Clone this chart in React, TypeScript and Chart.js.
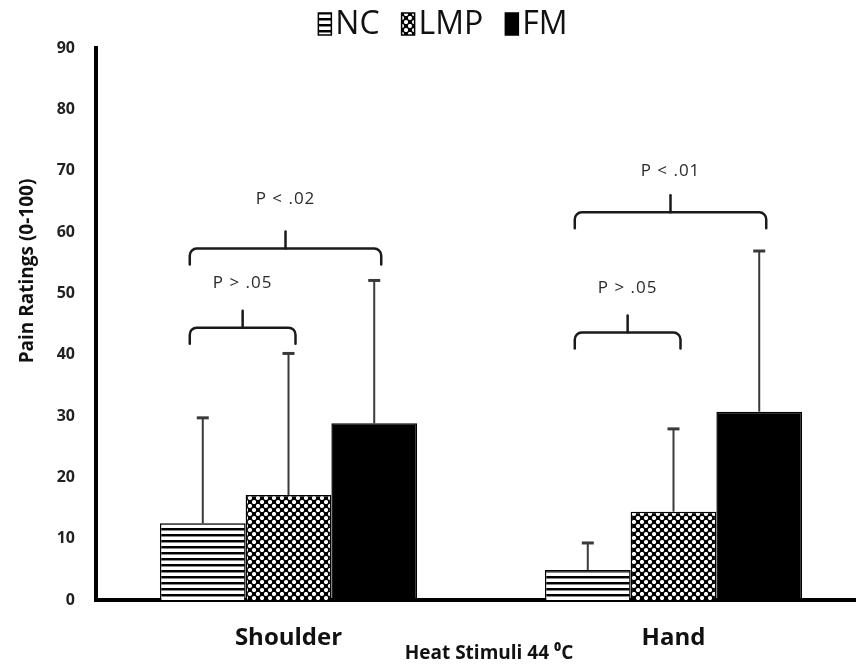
import React, { useEffect, useRef } from "react";
import { Chart, registerables } from "chart.js";

Chart.register(...registerables);

const categories = ["Shoulder", "Hand"];
const seriesNames = ["NC", "LMP", "FM"];
const ncMeans = [12.5, 4.9];
const lmpMeans = [17.1, 14.4];
const fmMeans = [28.8, 30.7];
const ncErrors = [17.2, 4.4];
const lmpErrors = [23.1, 13.5];
const fmErrors = [23.3, 26.2];
const yMin = 0;
const yMax = 90;
const yStep = 10;

const bracketCategory = [0, 0, 1, 1];
const bracketFromSeries = [0, 0, 0, 0];
const bracketToSeries = [1, 2, 1, 2];
const bracketValues = [44.4, 57.3, 43.6, 63.2];
const bracketLabels = ["P > .05", "P < .02", "P > .05", "P < .01"];
const bracketLabelValues = [51.6, 65.4, 50.9, 70.0];

const yAxisTitle = "Pain Ratings (0-100)";
const xAxisTitle = "Heat Stimuli 44 \u2070C";

const FONT = "'Open Sans', 'DejaVu Sans', sans-serif";

function makeStripes(): CanvasPattern | string {
  const c = document.createElement("canvas");
  c.width = 8;
  c.height = 6;
  const g = c.getContext("2d")!;
  g.fillStyle = "#ffffff";
  g.fillRect(0, 0, 8, 6);
  g.fillStyle = "#000000";
  g.fillRect(0, 0, 8, 2);
  g.fillStyle = "#888888";
  g.fillRect(0, 2, 8, 1);
  const p = g.createPattern(c, "repeat");
  return p || "#555";
}

function makeDots(): CanvasPattern | string {
  const c = document.createElement("canvas");
  c.width = 8;
  c.height = 8;
  const g = c.getContext("2d")!;
  g.fillStyle = "#000000";
  g.fillRect(0, 0, 8, 8);
  g.fillStyle = "#ffffff";
  g.beginPath();
  g.arc(2, 2, 2.1, 0, Math.PI * 2);
  g.fill();
  g.beginPath();
  g.arc(6, 6, 2.1, 0, Math.PI * 2);
  g.fill();
  const p = g.createPattern(c, "repeat");
  return p || "#444";
}

const overlayPlugin = {
  id: "overlay",
  afterDatasetsDraw(chart: any) {
    const ctx: CanvasRenderingContext2D = chart.ctx;
    const ys = chart.scales.y;
    const means = [ncMeans, lmpMeans, fmMeans];
    const errs = [ncErrors, lmpErrors, fmErrors];
    ctx.save();
    errs.forEach((arr, di) => {
      const meta = chart.getDatasetMeta(di);
      arr.forEach((e, i) => {
        const bar = meta.data[i];
        const x = bar.x;
        const y0 = bar.y;
        const y1 = ys.getPixelForValue(means[di][i] + e);
        ctx.strokeStyle = "#3a3a3a";
        ctx.lineWidth = 2;
        ctx.beginPath();
        ctx.moveTo(x, y0);
        ctx.lineTo(x, y1);
        ctx.stroke();
        ctx.lineWidth = 3;
        ctx.beginPath();
        ctx.moveTo(x - 6, y1);
        ctx.lineTo(x + 6, y1);
        ctx.stroke();
      });
    });
    bracketValues.forEach((v, k) => {
      const ci = bracketCategory[k];
      const fromBar = chart.getDatasetMeta(bracketFromSeries[k]).data[ci];
      const toBar = chart.getDatasetMeta(bracketToSeries[k]).data[ci];
      const x1 = fromBar.x - 13;
      const x2 = toBar.x + 7;
      const by = ys.getPixelForValue(v);
      const drop = 16;
      const r = 7;
      const notch = 17;
      ctx.strokeStyle = "#1a1a1a";
      ctx.lineWidth = 2.5;
      ctx.lineCap = "round";
      ctx.beginPath();
      ctx.moveTo(x1, by + drop);
      ctx.arcTo(x1, by, x1 + r, by, r);
      ctx.lineTo(x2 - r, by);
      ctx.arcTo(x2, by, x2, by + r, r);
      ctx.lineTo(x2, by + drop);
      ctx.stroke();
      const mx = (x1 + x2) / 2;
      ctx.beginPath();
      ctx.moveTo(mx, by);
      ctx.lineTo(mx, by - notch);
      ctx.stroke();
      ctx.fillStyle = "#2a2a2a";
      ctx.font = `17px ${FONT}`;
      (ctx as any).letterSpacing = "1px";
      ctx.textAlign = "center";
      ctx.textBaseline = "middle";
      ctx.fillText(bracketLabels[k], mx, ys.getPixelForValue(bracketLabelValues[k]));
      (ctx as any).letterSpacing = "0px";
    });
    ctx.restore();
  },
  afterDraw(chart: any) {
    const ctx: CanvasRenderingContext2D = chart.ctx;
    const ca = chart.chartArea;
    ctx.save();
    ctx.fillStyle = "#111";
    ctx.font = `bold 19px ${FONT}`;
    ctx.textAlign = "center";
    ctx.textBaseline = "middle";
    ctx.fillText(xAxisTitle, (ca.left + ca.right) / 2 + 8, ca.bottom + 54);
    const items = chart.data.datasets.map((d: any) => ({ text: d.label, fill: d.backgroundColor }));
    ctx.font = `32px ${FONT}`;
    const boxW = 13;
    const boxH = 22;
    const gap = 4;
    const itemGap = 22;
    const widths = items.map((it: any) => boxW + gap + ctx.measureText(it.text).width);
    const total = widths.reduce((a: number, b: number) => a + b, 0) + itemGap * (items.length - 1);
    let x = (ca.left + ca.right) / 2 - 38 - total / 2;
    const cy = 24;
    items.forEach((it: any, i: number) => {
      ctx.fillStyle = it.fill;
      ctx.fillRect(x, cy - boxH / 2, boxW, boxH);
      ctx.strokeStyle = "#000";
      ctx.lineWidth = 1.5;
      ctx.strokeRect(x, cy - boxH / 2, boxW, boxH);
      ctx.fillStyle = "#111";
      ctx.textAlign = "left";
      ctx.textBaseline = "middle";
      ctx.fillText(it.text, x + boxW + gap, cy + 1);
      x += widths[i] + itemGap;
    });
    ctx.translate(28, (ca.top + ca.bottom) / 2 - 53);
    ctx.rotate(-Math.PI / 2);
    ctx.fillStyle = "#111";
    ctx.font = `bold 19px ${FONT}`;
    ctx.textAlign = "center";
    ctx.textBaseline = "middle";
    ctx.fillText(yAxisTitle, 0, 0);
    ctx.restore();
  },
};

export default function App() {
  const ref = useRef<HTMLCanvasElement>(null);
  useEffect(() => {
    if (!ref.current) return;
    const stripes = makeStripes();
    const dots = makeDots();
    const fills = [stripes, dots, "#000000"];
    const values = [ncMeans, lmpMeans, fmMeans];
    const chart = new Chart(ref.current, {
      type: "bar",
      data: {
        labels: categories,
        datasets: seriesNames.map((name, i) => ({
          label: name,
          data: values[i],
          backgroundColor: fills[i] as any,
          borderColor: "#000000",
          borderWidth: 1.5,
        })),
      },
      options: {
        responsive: false,
        animation: false,
        devicePixelRatio: 1,
        layout: { padding: { top: 48, left: 16, right: 4, bottom: 0 } },
        datasets: { bar: { categoryPercentage: 0.668, barPercentage: 1 } },
        plugins: {
          legend: { display: false },
          tooltip: { enabled: false },
        },
        scales: {
          x: {
            grid: { display: false, drawTicks: false },
            border: { display: true, color: "#000", width: 4 },
            ticks: {
              color: "#111",
              padding: 24,
              font: { family: FONT, size: 24, weight: "bold" },
            },
            afterFit: (s: any) => {
              s.height = 67;
            },
          },
          y: {
            min: yMin,
            max: yMax,
            grid: { display: false, drawTicks: false },
            border: { display: true, color: "#000", width: 4 },
            ticks: {
              stepSize: yStep,
              color: "#222",
              padding: 21,
              font: { family: FONT, size: 16, weight: "bold" },
            },
            afterFit: (s: any) => {
              s.width = 80;
            },
          },
        },
      },
      plugins: [overlayPlugin],
    });
    return () => chart.destroy();
  }, []);
  return (
    <div
      style={{
        position: "absolute",
        left: 0,
        top: 0,
        width: 856,
        height: 667,
        overflow: "hidden",
        background: "#fff",
      }}
    >
      <canvas ref={ref} width={870} height={667} style={{ display: "block" }} />
    </div>
  );
}
